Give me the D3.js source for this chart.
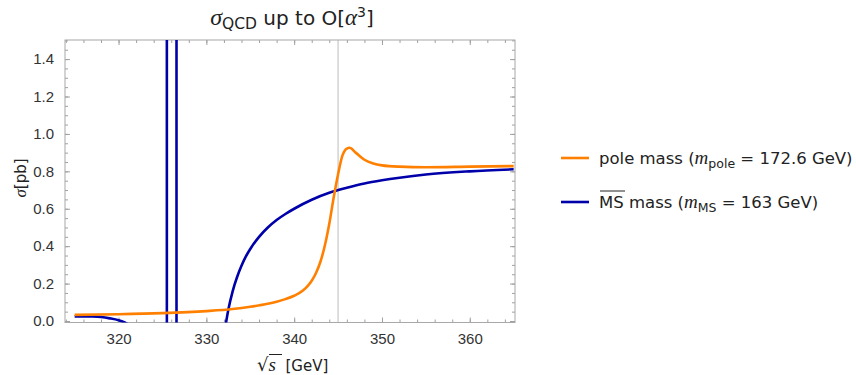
<!DOCTYPE html>
<html>
<head>
<meta charset="utf-8">
<script src="https://cdn.jsdelivr.net/npm/d3@7"></script>
<style>
  body { margin: 0; background: #fff; }
  svg { display: block; }
  text { font-family: "DejaVu Sans", sans-serif; fill: #222; }
  .tick-label { font-family: "Liberation Sans", Arial, sans-serif; font-size: 15px; fill: #333; }
  .math { font-family: "Liberation Serif", "Times New Roman", serif; font-style: italic; }
</style>
</head>
<body>
<svg id="chart" width="856" height="375"></svg>
<script>
const xTicks = [320, 330, 340, 350, 360];
const yTicks = [0, 0.2, 0.4, 0.6, 0.8, 1.0, 1.2, 1.4];
const thresholdS = 345;

// pole mass curve
const poleS = [315, 320, 325, 330, 333, 335, 337, 338, 339, 340, 341, 341.5, 342, 342.5, 343, 343.5, 344, 344.5, 345, 345.5, 346, 346.3, 347, 348, 349, 350, 352, 355, 360, 365];
const poleSigma = [0.033, 0.036, 0.042, 0.053, 0.064, 0.076, 0.092, 0.103, 0.117, 0.135, 0.163, 0.185, 0.215, 0.258, 0.318, 0.405, 0.52, 0.66, 0.785, 0.885, 0.922, 0.926, 0.9, 0.862, 0.842, 0.832, 0.825, 0.822, 0.825, 0.828];

// MS-bar mass curve: three branches (below zero / pole / rising)
const msLowS = [315, 316, 317, 318, 319, 320, 320.5, 321];
const msLowSigma = [0.025, 0.025, 0.024, 0.021, 0.014, 0.004, -0.004, -0.015];
const msPoleS = [325.5, 325.5, 326.6, 326.6];
const msPoleSigma = [-0.1, 1.7, 1.7, -0.1];
const msHighS = [332.2, 332.5, 333, 333.5, 334, 334.5, 335, 336, 337, 338, 339, 340, 342, 344, 346, 348, 350, 352, 355, 360, 365];
const msHighSigma = [-0.02, 0.06, 0.16, 0.235, 0.295, 0.345, 0.385, 0.45, 0.50, 0.54, 0.572, 0.60, 0.648, 0.685, 0.712, 0.735, 0.752, 0.766, 0.783, 0.80, 0.811];

const orange = '#ff8000';
const blue = '#0000aa';

const svg = d3.select('#chart');
const frame = { left: 65, right: 515, top: 40, bottom: 322.5 };

const x = d3.scaleLinear().domain([313.9, 365.15]).range([frame.left, frame.right]);
const y = d3.scaleLinear().domain([-0.008, 1.502]).range([frame.bottom, frame.top]);

const zip = (xs, ys) => xs.map((v, i) => [v, ys[i]]);

svg.append('clipPath').attr('id', 'plot-clip')
    .append('rect')
    .attr('x', frame.left).attr('y', frame.top)
    .attr('width', frame.right - frame.left)
    .attr('height', frame.bottom - frame.top);

// gridline at threshold
svg.append('line')
    .attr('x1', x(thresholdS)).attr('x2', x(thresholdS))
    .attr('y1', frame.top).attr('y2', frame.bottom)
    .attr('stroke', '#bdbdbd').attr('stroke-width', 1);

// frame with inward ticks on all four sides
const minorX = d3.range(314, 366, 2);
const minorY = d3.range(0, 1.51, 0.05);

const addAxis = (axis, transform, showLabels) => {
    const g = svg.append('g').attr('transform', transform).call(axis);
    g.select('.domain').remove();
    g.selectAll('.tick line').attr('stroke', '#a0a0a0');
    if (showLabels) g.selectAll('.tick text').attr('class', 'tick-label');
    else g.selectAll('.tick text').remove();
    return g;
};

addAxis(d3.axisBottom(x).tickValues(minorX).tickSize(-3).tickFormat(''), `translate(0,${frame.bottom})`, false);
addAxis(d3.axisTop(x).tickValues(minorX).tickSize(-3).tickFormat(''), `translate(0,${frame.top})`, false);
addAxis(d3.axisLeft(y).tickValues(minorY).tickSize(-3).tickFormat(''), `translate(${frame.left},0)`, false);
addAxis(d3.axisRight(y).tickValues(minorY).tickSize(-3).tickFormat(''), `translate(${frame.right},0)`, false);

addAxis(d3.axisBottom(x).tickValues(xTicks).tickSize(-5).tickPadding(11).tickFormat(d3.format('d')), `translate(0,${frame.bottom})`, true);
addAxis(d3.axisTop(x).tickValues(xTicks).tickSize(-5), `translate(0,${frame.top})`, false);
addAxis(d3.axisLeft(y).tickValues(yTicks).tickSize(-5).tickPadding(11).tickFormat(d3.format('.1f')), `translate(${frame.left},0)`, true);
addAxis(d3.axisRight(y).tickValues(yTicks).tickSize(-5), `translate(${frame.right},0)`, false);

svg.append('rect')
    .attr('x', frame.left).attr('y', frame.top)
    .attr('width', frame.right - frame.left)
    .attr('height', frame.bottom - frame.top)
    .attr('fill', 'none').attr('stroke', '#a8a8a8').attr('stroke-width', 1);

// curves
const smooth = d3.line().x(d => x(d[0])).y(d => y(d[1])).curve(d3.curveMonotoneX);
const straight = d3.line().x(d => x(d[0])).y(d => y(d[1]));

const curves = svg.append('g').attr('clip-path', 'url(#plot-clip)')
    .attr('fill', 'none').attr('stroke-width', 2.6).attr('stroke-linejoin', 'round');

curves.append('path').attr('d', smooth(zip(msLowS, msLowSigma))).attr('stroke', blue);
curves.append('path').attr('d', straight(zip(msPoleS, msPoleSigma))).attr('stroke', blue);
curves.append('path').attr('d', smooth(zip(msHighS, msHighSigma))).attr('stroke', blue);
curves.append('path').attr('d', smooth(zip(poleS, poleSigma))).attr('stroke', orange);

// title
const title = svg.append('text').attr('x', 292).attr('y', 25).attr('text-anchor', 'middle').attr('font-size', 20);
title.append('tspan').attr('class', 'math').attr('font-size', 24).text('σ');
title.append('tspan').attr('font-size', 15.5).attr('dy', 4).text('QCD');
title.append('tspan').attr('dy', -4).text(' up to O[');
title.append('tspan').attr('class', 'math').attr('font-size', 23).text('α');
title.append('tspan').attr('font-size', 14).attr('dy', -8).text('3');
title.append('tspan').attr('dy', 8).text(']');

// axis labels
const yLabel = svg.append('text')
    .attr('transform', 'translate(26,178) rotate(-90)')
    .attr('text-anchor', 'middle').attr('font-size', 15);
yLabel.append('tspan').attr('class', 'math').attr('font-size', 17).text('σ');
yLabel.append('tspan').text('[pb]');

const xLabel = svg.append('text').attr('x', 257).attr('y', 371).attr('font-size', 15);
xLabel.append('tspan').attr('font-size', 18).text('√');
xLabel.append('tspan').attr('class', 'math').attr('font-size', 19).text('s');
xLabel.append('tspan').text('\u00a0\u00a0[GeV]');
svg.append('line').attr('x1', 269).attr('x2', 282).attr('y1', 354.5).attr('y2', 354.5)
    .attr('stroke', '#222').attr('stroke-width', 1);

// legend
const legend = svg.append('g').attr('font-size', 16.5);
const legendRow = (yPos, color) => {
    legend.append('line')
        .attr('x1', 561).attr('x2', 589).attr('y1', yPos).attr('y2', yPos)
        .attr('stroke', color).attr('stroke-width', 2.6);
    return legend.append('text').attr('x', 599).attr('y', yPos + 6);
};

const row1 = legendRow(158, orange);
row1.append('tspan').text('pole mass (');
row1.append('tspan').attr('class', 'math').attr('font-size', 19).text('m');
row1.append('tspan').attr('font-size', 12.5).attr('dy', 4).text('pole');
row1.append('tspan').attr('dy', -4).text(' = 172.6 GeV)');

const row2 = legendRow(202, blue);
row2.append('tspan').text('MS mass (');
row2.append('tspan').attr('class', 'math').attr('font-size', 19).text('m');
row2.append('tspan').attr('font-size', 12.5).attr('dy', 4).text('MS');
row2.append('tspan').attr('dy', -4).text(' = 163 GeV)');
legend.append('line').attr('x1', 600).attr('x2', 625).attr('y1', 191).attr('y2', 191)
    .attr('stroke', '#222').attr('stroke-width', 1);
</script>
</body>
</html>
